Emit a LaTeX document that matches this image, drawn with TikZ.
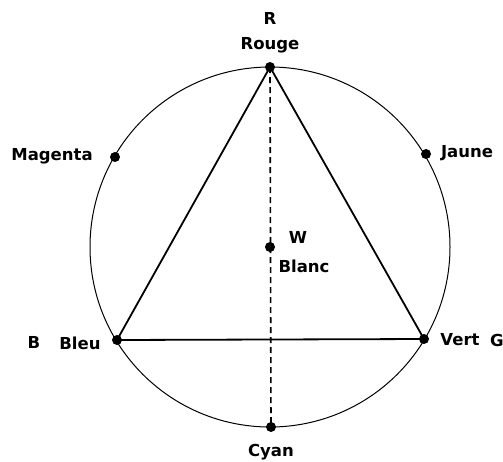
\documentclass[tikz,border=0pt]{standalone}
\usepackage{fontspec}
\setmainfont{DejaVu Sans}
\begin{document}
\begin{tikzpicture}[x=1pt,y=-1pt,
  dot/.style={circle,fill=black,inner sep=0pt,minimum size=10pt},
  lbl/.style={font=\fontsize{16.5}{19}\selectfont\bfseries,inner sep=0pt},
  tri/.style={line width=1.8pt},
  circ/.style={line width=1pt},
  axis/.style={line width=1.6pt,dash pattern=on 6pt off 4pt}]
\useasboundingbox (0,0) rectangle (503,461);
\coordinate (O) at (270,247);
\draw[circ] (O) circle (180);
\node[dot] (R) at (270,67) {};
\node[dot] (M) at (115,157) {};
\node[dot] (J) at (426,154) {};
\node[dot] (B) at (117,340) {};
\node[dot] (G) at (424,339) {};
\node[dot] (C) at (271,427) {};
\node[dot] (W) at (270,247) {};
\draw[axis] (R.center) -- (C.center);
\draw[tri,line join=round] (R.center) -- (B.center) -- (G.center) -- cycle;
\node[lbl] (tR) at (270,18) {R};
\node[lbl] (tRouge) at (270,45) {Rouge};
\node[lbl] (tM) at (52,156) {Magenta};
\node[lbl] (tJ) at (467,153) {Jaune};
\node[lbl] (tW) at (298,237) {W};
\node[lbl] (tBlanc) at (304,266) {Blanc};
\node[lbl] (tB) at (34,342) {B};
\node[lbl] (tBleu) at (80,343) {Bleu};
\node[lbl] (tVert) at (460,340) {Vert};
\node[lbl] (tG) at (497,340) {G};
\node[lbl] (tC) at (271,452) {Cyan};
\end{tikzpicture}
\end{document}
